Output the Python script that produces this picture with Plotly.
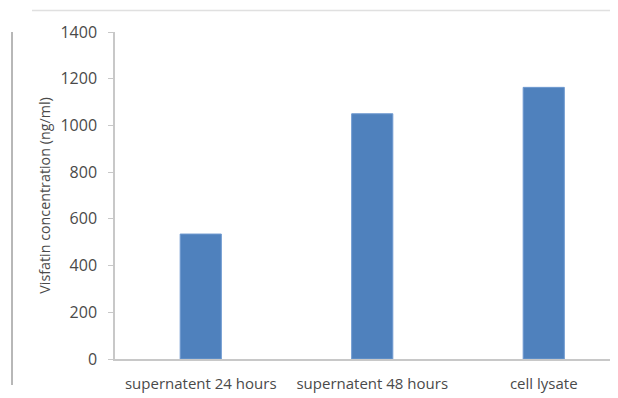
import plotly.graph_objects as go

categories = ["supernatent 24 hours", "supernatent 48 hours", "cell lysate"]
values = [535, 1050, 1163]
y_ticks = [0, 200, 400, 600, 800, 1000, 1200, 1400]

# page body has an 8px margin, so figure coordinates are window minus 8
W, H = 610, 390
ml, mr, mt, mb = 107, 0, 24, 39

fig = go.Figure(go.Bar(
    x=categories, y=values,
    marker=dict(color="#4F81BD", line=dict(color="#6f9ad0", width=1)),
))

fig.update_layout(
    width=W, height=H,
    margin=dict(l=ml, r=mr, t=mt, b=mb, pad=0),
    paper_bgcolor="white", plot_bgcolor="white",
    bargap=0.76,
    showlegend=False,
    font=dict(family="Open Sans", color="#4a4a4a", size=13),
)

fig.update_xaxes(
    range=[-0.5, 2.433],
    showline=True, linecolor="#c8c8c8", linewidth=1.5,
    showgrid=False, ticks="", tickfont=dict(size=15, color="#4a4a4a"),
    ticklabelstandoff=10,
)
fig.update_yaxes(
    range=[0, 1400], tickvals=y_ticks,
    showline=True, linecolor="#c8c8c8", linewidth=1.5,
    showgrid=False, ticks="outside", ticklen=5, tickcolor="#c8c8c8",
    tickfont=dict(size=16, color="#4a4a4a"),
    ticklabelstandoff=8,
    title=dict(text="Visfatin concentration (ng/ml)", font=dict(size=14.3, color="#4a4a4a"), standoff=6),
    zeroline=False,
)

pw = W - ml - mr
ph = H - mt - mb
# chart-area border fragments
fig.add_shape(type="line", xref="paper", yref="paper",
              x0=(24 - ml) / pw, x1=1.0,
              y0=(H - mb - 2.5) / ph, y1=(H - mb - 2.5) / ph,
              line=dict(color="#e0e0e0", width=1.5))
fig.add_shape(type="line", xref="paper", yref="paper",
              x0=(4 - ml) / pw, x1=(4 - ml) / pw,
              y0=(H - mb - 377) / ph, y1=(H - mb - 24) / ph,
              line=dict(color="#707070", width=1))

fig.write_html("out.html")
